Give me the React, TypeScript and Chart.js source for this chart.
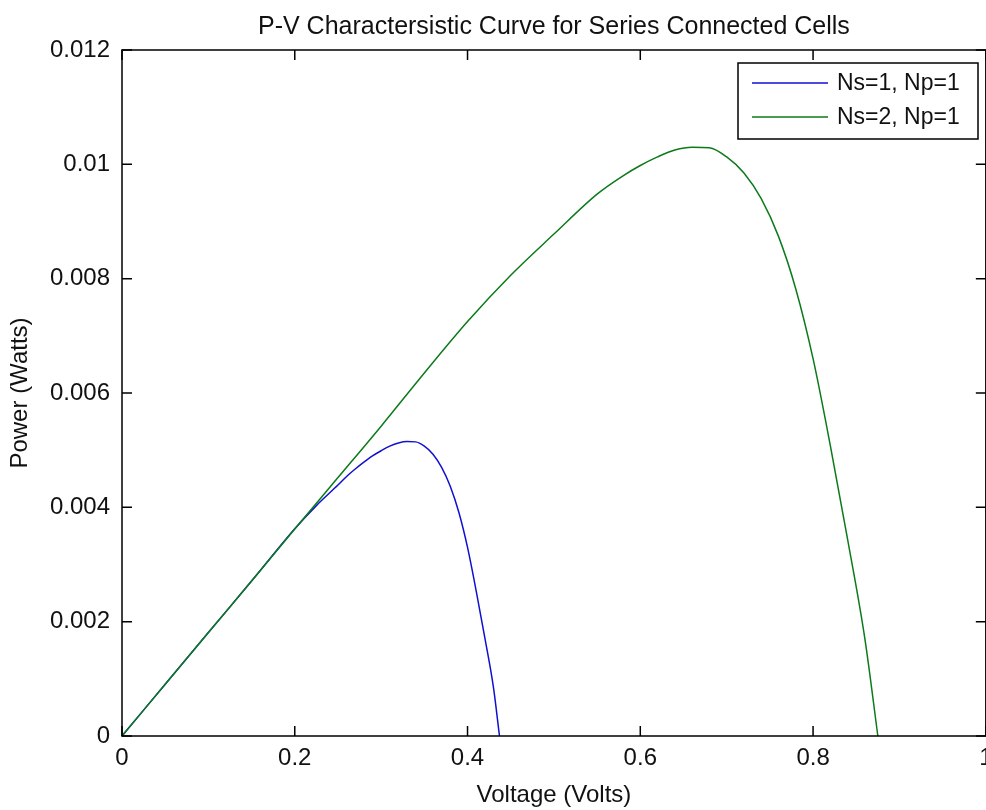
import React, { useEffect, useRef } from "react";
import { Chart, registerables } from "chart.js";

Chart.register(...registerables);

const chartTitle = "P-V Charactersistic Curve for Series Connected Cells";
const xAxisTitle = "Voltage (Volts)";
const yAxisTitle = "Power (Watts)";

const xTickValues = [0, 0.2, 0.4, 0.6, 0.8, 1];
const yTickValues = [0, 0.002, 0.004, 0.006, 0.008, 0.01, 0.012];

const series1Label = "Ns=1, Np=1";
const series1Voltage = [
  0, 0.05, 0.1, 0.15, 0.2, 0.225, 0.25, 0.26, 0.27, 0.28, 0.29, 0.3, 0.31,
  0.32, 0.33, 0.34, 0.35, 0.36, 0.37, 0.38, 0.39, 0.4, 0.41, 0.42, 0.43, 0.437,
];
const series1Power = [
  0, 0.000905, 0.00181, 0.00271, 0.003625, 0.00403, 0.00439, 0.00454, 0.00467,
  0.00479, 0.0049, 0.00499, 0.00507, 0.005125, 0.00515, 0.005145, 0.00507,
  0.00493, 0.0047, 0.00437, 0.00391, 0.0033, 0.00254, 0.00172, 0.00085, 0,
];

const series2Label = "Ns=2, Np=1";
const series2Voltage = [
  0, 0.05, 0.1, 0.15, 0.2, 0.25, 0.3, 0.35, 0.4, 0.45, 0.5, 0.55, 0.58, 0.6,
  0.62, 0.64, 0.66, 0.68, 0.7, 0.72, 0.74, 0.76, 0.78, 0.8, 0.82, 0.84, 0.86,
  0.875,
];
const series2Power = [
  0, 0.000905, 0.00181, 0.00271, 0.00362, 0.00452, 0.00542, 0.00635, 0.00725,
  0.00806, 0.00878, 0.00948, 0.0098, 0.00998, 0.01013, 0.01025, 0.0103,
  0.01029, 0.01013, 0.00985, 0.0094, 0.00874, 0.00782, 0.0066, 0.00508,
  0.00344, 0.0017, 0,
];

const series1Color = "#1010d0";
const series2Color = "#0c7a1a";

const FONT = "'Liberation Sans', Arial, Helvetica, sans-serif";

function fmt(v: number): string {
  return String(Number(v.toFixed(4)));
}

const frameAndTicks = {
  id: "frameAndTicks",
  afterDatasetsDraw(chart: any) {
    const { ctx, chartArea } = chart;
    const { left, right, top, bottom } = chartArea;
    const xs = chart.scales.x;
    const ys = chart.scales.y;
    const tl = 10;
    ctx.save();
    ctx.strokeStyle = "#000";
    ctx.lineWidth = 1.5;
    ctx.strokeRect(left, top, right - left, bottom - top);
    ctx.beginPath();
    xTickValues.forEach((v) => {
      const px = xs.getPixelForValue(v);
      ctx.moveTo(px, bottom);
      ctx.lineTo(px, bottom - tl);
      ctx.moveTo(px, top);
      ctx.lineTo(px, top + tl);
    });
    yTickValues.forEach((v) => {
      const py = ys.getPixelForValue(v);
      ctx.moveTo(left, py);
      ctx.lineTo(left + tl, py);
      ctx.moveTo(right, py);
      ctx.lineTo(right - tl, py);
    });
    ctx.stroke();
    ctx.restore();
  },
};

const boxLegend = {
  id: "boxLegend",
  afterDraw(chart: any) {
    const { ctx } = chart;
    const bx = 738;
    const by = 63;
    const bw = 240;
    const bh = 76;
    ctx.save();
    ctx.fillStyle = "#fff";
    ctx.fillRect(bx, by, bw, bh);
    ctx.strokeStyle = "#000";
    ctx.lineWidth = 1.5;
    ctx.strokeRect(bx, by, bw, bh);
    ctx.font = `23px ${FONT}`;
    ctx.textAlign = "left";
    ctx.textBaseline = "middle";
    chart.data.datasets.forEach((ds: any, i: number) => {
      const y = by + 20 + i * 34;
      ctx.strokeStyle = ds.borderColor;
      ctx.lineWidth = 1.5;
      ctx.beginPath();
      ctx.moveTo(bx + 14, y);
      ctx.lineTo(bx + 90, y);
      ctx.stroke();
      ctx.fillStyle = "#111";
      ctx.fillText(ds.label, bx + 99, y + 1);
    });
    ctx.restore();
  },
};

export default function App() {
  const ref = useRef<HTMLCanvasElement | null>(null);

  useEffect(() => {
    if (!ref.current) return;
    const chart = new Chart(ref.current, {
      type: "line",
      data: {
        datasets: [
          {
            label: series1Label,
            data: series1Voltage.map((v, i) => ({ x: v, y: series1Power[i] })),
            borderColor: series1Color,
            backgroundColor: series1Color,
            borderWidth: 1.5,
            pointRadius: 0,
            cubicInterpolationMode: "monotone",
            order: 1,
          },
          {
            label: series2Label,
            data: series2Voltage.map((v, i) => ({ x: v, y: series2Power[i] })),
            borderColor: series2Color,
            backgroundColor: series2Color,
            borderWidth: 1.5,
            pointRadius: 0,
            cubicInterpolationMode: "monotone",
            order: 0,
          },
        ],
      },
      options: {
        animation: false,
        responsive: false,
        maintainAspectRatio: false,
        layout: { padding: { left: 0, right: 9, top: 0, bottom: 0 } },
        plugins: {
          legend: { display: false },
          tooltip: { enabled: false },
          title: {
            display: true,
            fullSize: false,
            text: chartTitle,
            color: "#111",
            font: { family: FONT, size: 25, weight: "normal" },
            padding: { top: 12, bottom: 8 },
          },
        },
        scales: {
          x: {
            type: "linear",
            min: 0,
            max: 1,
            afterFit: (s: any) => {
              s.height = 74;
            },
            afterBuildTicks: (s: any) => {
              s.ticks = xTickValues.map((v) => ({ value: v }));
            },
            grid: { display: false, drawTicks: false },
            border: { display: false },
            ticks: {
              padding: 7.5,
              color: "#111",
              font: { family: FONT, size: 24 },
              maxRotation: 0,
              autoSkip: false,
              callback: (v: any) => fmt(Number(v)),
            },
            title: {
              display: true,
              text: xAxisTitle,
              color: "#111",
              font: { family: FONT, size: 24 },
              padding: { top: 0, bottom: 0 },
            },
          },
          y: {
            type: "linear",
            min: 0,
            max: 0.012,
            afterFit: (s: any) => {
              s.width = 122;
            },
            afterBuildTicks: (s: any) => {
              s.ticks = yTickValues.map((v) => ({ value: v }));
            },
            grid: { display: false, drawTicks: false },
            border: { display: false },
            ticks: {
              padding: 12,
              color: "#111",
              font: { family: FONT, size: 24 },
              autoSkip: false,
              callback: (v: any) => fmt(Number(v)),
            },
            title: {
              display: true,
              text: yAxisTitle,
              color: "#111",
              font: { family: FONT, size: 24 },
              padding: { top: 6, bottom: 6 },
            },
          },
        },
      } as any,
      plugins: [frameAndTicks, boxLegend],
    });
    return () => chart.destroy();
  }, []);

  return (
    <div
      style={{
        position: "absolute",
        left: 0,
        top: 0,
        width: 986,
        height: 810,
        overflow: "hidden",
        background: "#fff",
      }}
    >
      <canvas
        ref={ref}
        width={1000}
        height={810}
        style={{ width: 1000, height: 810, display: "block" }}
      />
    </div>
  );
}
